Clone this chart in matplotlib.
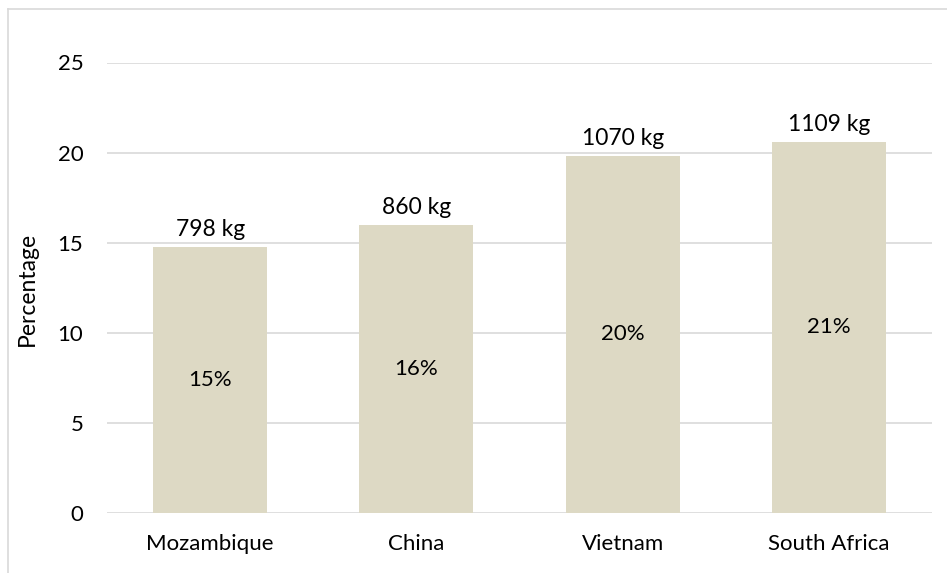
import matplotlib
matplotlib.use("Agg")
import matplotlib.pyplot as plt
from matplotlib.lines import Line2D

countries = ["Mozambique", "China", "Vietnam", "South Africa"]
percent = [14.77, 15.98, 19.83, 20.57]
pct_labels = ["15%", "16%", "20%", "21%"]
kg_labels = ["798 kg", "860 kg", "1070 kg", "1109 kg"]
yticks = [0, 5, 10, 15, 20, 25]

plt.rcParams['font.family'] = ['Lato', 'DejaVu Sans']

W, H = 947, 573
fig = plt.figure(figsize=(W/100, H/100), dpi=100)
ax = fig.add_axes([107/W, 1-512.7/H, (932-107)/W, (512.7-62.5)/H])

x = list(range(len(countries)))
bars = ax.bar(x, percent, width=0.553, color="#DDD9C4", zorder=2)
ax.set_xlim(-0.5, 3.5)
ax.set_ylim(0, 25)
ax.set_yticks(yticks)
ax.set_xticks(x)
ax.set_xticklabels(countries)
ax.grid(axis='y', color="#D9D9D9", linewidth=1.2, zorder=0)
for s in ax.spines.values():
    s.set_visible(False)
ax.tick_params(axis='both', length=0, labelsize=16, colors="black")
ax.tick_params(axis='y', pad=17)
ax.tick_params(axis='x', pad=15)
ax.set_ylabel("Percentage", fontsize=16.5)
ax.yaxis.set_label_coords(-(107-38)/(932-107), (512.7-288.5)/(512.7-62.5))

for xi, v, pl, kl in zip(x, percent, pct_labels, kg_labels):
    ax.text(xi, v/2, pl, ha='center', va='center', fontsize=16, zorder=3)
    ax.annotate(kl, (xi, v), xytext=(0, 5), textcoords='offset points',
                ha='center', va='bottom', fontsize=16.5)

fig.add_artist(Line2D([8/W, 8/W], [0, 1-9/H], color="#D9D9D9", linewidth=1.2, transform=fig.transFigure))
fig.add_artist(Line2D([8/W, 1], [1-9/H, 1-9/H], color="#D9D9D9", linewidth=1.2, transform=fig.transFigure))

fig.savefig("out.png", dpi=100)
